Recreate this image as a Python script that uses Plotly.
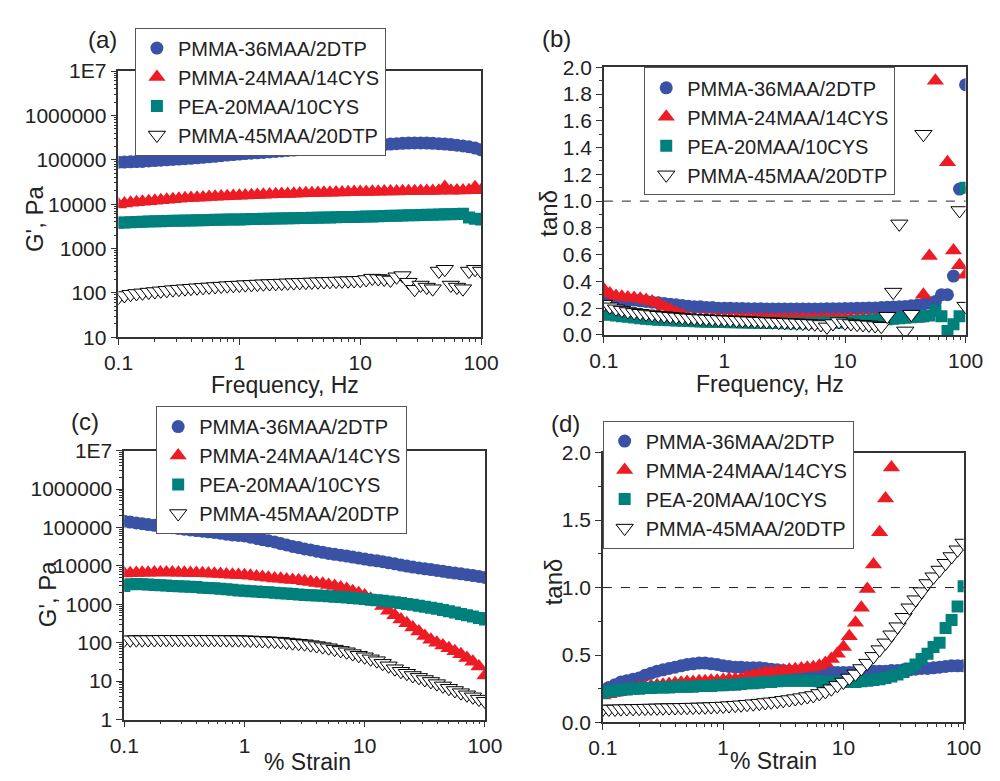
import plotly.graph_objects as go

# Logarithmic sweep grid (20 points per decade) shared by frequency and strain sweeps
grid = [0.1, 0.112, 0.126, 0.141, 0.158, 0.178, 0.2, 0.224, 0.251, 0.282,
        0.316, 0.355, 0.398, 0.447, 0.501, 0.562, 0.631, 0.708, 0.794, 0.891,
        1.0, 1.12, 1.26, 1.41, 1.58, 1.78, 2.0, 2.24, 2.51, 2.82,
        3.16, 3.55, 3.98, 4.47, 5.01, 5.62, 6.31, 7.08, 7.94, 8.91,
        10.0, 11.2, 12.6, 14.1, 15.8, 17.8, 20.0, 22.4, 25.1, 28.2,
        31.6, 35.5, 39.8, 44.7, 50.1, 56.2, 63.1, 70.8, 79.4, 89.1, 100.0]
freq_hz = grid
strain_pct = grid

names = ["PMMA-36MAA/2DTP", "PMMA-24MAA/14CYS", "PEA-20MAA/10CYS", "PMMA-45MAA/20DTP"]

# (a) G' vs frequency, Pa
a_36dtp = [88000, 89000, 90000, 91000, 92000, 94000, 96000, 98000, 100000, 102000,
           104000, 106000, 108000, 111000, 114000, 117000, 120000, 124000, 128000, 131000,
           135000, 138000, 141000, 144000, 147000, 150000, 154000, 158000, 162000, 166000,
           170000, 174000, 178000, 181000, 185000, 189000, 193000, 196000, 199000, 202000,
           205000, 209000, 213000, 217000, 221000, 226000, 231000, 235000, 238000, 240000,
           240000, 238000, 235000, 231000, 226000, 220000, 213000, 205000, 196000, 184000, 168000]
a_24cys = [9800, 10300, 10700, 11000, 11400, 11700, 12000, 12300, 12600, 12900,
           13200, 13500, 13700, 14000, 14200, 14500, 14700, 14900, 15100, 15300,
           15500, 15700, 15900, 16100, 16300, 16500, 16700, 16900, 17000, 17200,
           17400, 17500, 17700, 17800, 18000, 18100, 18300, 18400, 18500, 18700,
           18800, 18900, 19000, 19100, 19200, 19300, 19400, 19500, 19500, 19600,
           19700, 19800, 19800, 20000, 24500, 20000, 20200, 20300, 20500, 24000, 20500]
a_pea = [3800, 3850, 3900, 3950, 4000, 4050, 4100, 4120, 4150, 4200,
         4230, 4260, 4300, 4330, 4360, 4400, 4420, 4450, 4480, 4500,
         4530, 4560, 4600, 4630, 4660, 4700, 4730, 4760, 4800, 4830,
         4860, 4900, 4930, 4960, 5000, 5030, 5060, 5100, 5130, 5160,
         5200, 5250, 5300, 5350, 5400, 5450, 5500, 5550, 5600, 5650,
         5700, 5750, 5800, 5850, 5900, 5950, 6000, 6100, 5000, 4700, 4500]
a_45dtp = [80, 87, 93, 97, 100, 104, 107, 111, 114, 118,
           121, 124, 127, 130, 133, 136, 139, 142, 145, 148,
           150, 153, 155, 158, 160, 162, 164, 166, 168, 170,
           172, 174, 176, 178, 180, 182, 184, 186, 188, 190,
           192, 200, 215, 210, 205, 195, 230, 245, 174, 120,
           150, 135, 124, 310, 340, 150, 135, 124, 310, 340, 310]

# (b) tan(delta) vs frequency
b_36dtp = [0.28, 0.275, 0.27, 0.265, 0.26, 0.26, 0.255, 0.25, 0.245, 0.24,
           0.235, 0.23, 0.225, 0.22, 0.215, 0.21, 0.21, 0.205, 0.205, 0.2,
           0.2, 0.2, 0.198, 0.197, 0.196, 0.195, 0.195, 0.194, 0.194, 0.193,
           0.193, 0.193, 0.193, 0.193, 0.193, 0.194, 0.194, 0.195, 0.195, 0.196,
           0.197, 0.198, 0.199, 0.2, 0.201, 0.202, 0.204, 0.206, 0.208, 0.21,
           0.213, 0.217, 0.222, 0.23, 0.24, 0.25, 0.30, 0.30, 0.44, 1.09, 1.87]
b_24cys = [0.34, 0.31, 0.29, 0.285, 0.28, 0.275, 0.27, 0.26, 0.25, 0.235,
           0.21, 0.19, 0.17, 0.15, 0.13, 0.12, 0.12, 0.12, 0.12, 0.12,
           0.12, 0.12, 0.12, 0.12, 0.12, 0.12, 0.12, 0.12, 0.12, 0.12,
           0.12, 0.12, 0.12, 0.12, 0.12, 0.12, 0.12, 0.12, 0.12, 0.12,
           0.12, 0.12, 0.12, 0.12, 0.12, 0.12, 0.12, 0.12, 0.12, 0.12,
           0.12, 0.12, 0.12, 0.30, 0.59, 1.90, None, 1.29, 0.63, 0.52, 0.45]
b_pea = [0.155, 0.15, 0.145, 0.14, 0.135, 0.13, 0.125, 0.12, 0.117, 0.114,
         0.112, 0.11, 0.108, 0.106, 0.104, 0.102, 0.1, 0.099, 0.098, 0.097,
         0.096, 0.095, 0.094, 0.093, 0.092, 0.091, 0.09, 0.09, 0.089, 0.089,
         0.088, 0.088, 0.088, 0.088, 0.088, 0.089, 0.09, 0.091, 0.092, 0.093,
         0.095, 0.097, 0.1, 0.103, 0.106, 0.11, 0.113, 0.117, 0.12, 0.124,
         0.128, 0.132, 0.136, 0.14, 0.145, 0.18, 0.14, 0.03, 0.08, 0.14, 1.10]
b_45dtp = [0.23, 0.21, 0.195, 0.185, 0.175, 0.168, 0.162, 0.157, 0.152, 0.147,
           0.143, 0.139, 0.135, 0.131, 0.128, 0.125, 0.122, 0.12, 0.118, 0.116,
           0.114, 0.112, 0.11, 0.108, 0.106, 0.104, 0.102, 0.1, 0.098, 0.096,
           0.094, 0.092, 0.09, 0.088, 0.086, 0.083, 0.078, 0.06, 0.085, 0.1,
           0.09, 0.085, 0.08, 0.078, 0.075, 0.07, 0.065, 0.14, 0.32, 0.83,
           0.03, 0.155, None, 1.50, None, None, None, None, None, 0.93, 0.215]

# (c) G' vs strain, Pa
c_36dtp = [145000, 138000, 131000, 125000, 119000, 114000, 110000, 104000, 99000, 94000,
           90000, 86000, 83000, 80000, 77000, 74000, 71000, 67000, 64000, 62000,
           60000, 56000, 52000, 48000, 45000, 42000, 38000, 35000, 32000, 30000,
           27500, 26000, 24000, 22500, 21000, 20000, 19000, 18000, 17000, 16000,
           15000, 14200, 13500, 12800, 12000, 11300, 10500, 9900, 9300, 8800,
           8400, 8000, 7600, 7200, 6800, 6500, 6200, 5900, 5600, 5300, 5000]
c_24cys = [6300, 6400, 6500, 6600, 6650, 6700, 6700, 6700, 6700, 6650,
           6600, 6550, 6500, 6400, 6300, 6200, 6100, 6000, 5900, 5800,
           5700, 5500, 5300, 5100, 4900, 4700, 4600, 4400, 4300, 4200,
           4000, 3800, 3600, 3400, 3200, 3000, 2750, 2500, 2200, 1950,
           1700, 1400, 1150, 900, 680, 520, 400, 320, 250, 195,
           150, 120, 100, 85, 72, 60, 50, 40, 32, 24, 14]
c_pea = [3000, 3300, 3350, 3300, 3250, 3200, 3150, 3100, 3000, 2950,
         2900, 2850, 2800, 2700, 2650, 2600, 2550, 2450, 2400, 2300,
         2250, 2200, 2150, 2100, 2050, 2000, 1950, 1900, 1850, 1800,
         1750, 1720, 1690, 1660, 1620, 1580, 1540, 1500, 1460, 1420,
         1370, 1320, 1280, 1230, 1180, 1130, 1080, 1020, 970, 910,
         860, 810, 760, 710, 660, 610, 560, 520, 480, 440, 400]
c_45dtp = [118, 119, 120, 120, 121, 121, 122, 122, 122, 122,
           122, 122, 122, 122, 122, 122, 121, 121, 120, 120,
           119, 118, 116, 114, 112, 110, 108, 104, 100, 97,
           94, 89, 84, 79, 74, 68, 63, 58, 52, 47,
           43, 38, 34, 29, 25, 21, 18, 16, 14, 12.5,
           11, 9.8, 8.6, 7.5, 6.5, 5.7, 5.0, 4.4, 3.9, 3.4, 3.0]

# (d) tan(delta) vs strain
d_36dtp = [0.24, 0.26, 0.28, 0.30, 0.31, 0.32, 0.33, 0.35, 0.365, 0.38,
           0.39, 0.40, 0.41, 0.42, 0.43, 0.435, 0.44, 0.44, 0.435, 0.43,
           0.42, 0.415, 0.41, 0.41, 0.405, 0.405, 0.405, 0.40, 0.395, 0.39,
           0.385, 0.38, 0.38, 0.385, 0.39, 0.39, 0.385, 0.38, 0.375, 0.37,
           0.37, 0.37, 0.375, 0.375, 0.38, 0.38, 0.38, 0.38, 0.385, 0.385,
           0.39, 0.39, 0.395, 0.40, 0.40, 0.405, 0.41, 0.415, 0.42, 0.42, 0.42]
d_24cys = [0.20, 0.21, 0.22, 0.23, 0.24, 0.25, 0.26, 0.265, 0.27, 0.275,
           0.28, 0.285, 0.29, 0.295, 0.30, 0.30, 0.305, 0.305, 0.31, 0.31,
           0.315, 0.32, 0.32, 0.325, 0.34, 0.35, 0.36, 0.37, 0.375, 0.38,
           0.385, 0.39, 0.395, 0.40, 0.405, 0.41, 0.42, 0.44, 0.47, 0.51,
           0.56, 0.64, 0.74, 0.85, 0.99, 1.17, 1.41, 1.66, 1.89, None,
           None, None, None, None, None, None, None, None, None, None, None]
d_pea = [0.22, 0.23, 0.235, 0.24, 0.245, 0.25, 0.25, 0.255, 0.255, 0.26,
         0.26, 0.26, 0.265, 0.265, 0.265, 0.265, 0.27, 0.27, 0.27, 0.275,
         0.275, 0.28, 0.28, 0.285, 0.29, 0.29, 0.295, 0.30, 0.30, 0.305,
         0.31, 0.31, 0.31, 0.31, 0.31, 0.31, 0.305, 0.30, 0.30, 0.30,
         0.30, 0.30, 0.30, 0.305, 0.31, 0.315, 0.32, 0.33, 0.34, 0.355,
         0.375, 0.40, 0.43, 0.47, 0.51, 0.56, 0.59, 0.70, 0.76, 0.86, 1.01]
d_45dtp = [0.10, 0.10, 0.10, 0.102, 0.103, 0.104, 0.105, 0.106, 0.107, 0.108,
           0.109, 0.11, 0.111, 0.112, 0.113, 0.114, 0.115, 0.116, 0.118, 0.12,
           0.122, 0.125, 0.128, 0.131, 0.135, 0.139, 0.143, 0.148, 0.153, 0.158,
           0.164, 0.17, 0.177, 0.184, 0.192, 0.20, 0.215, 0.23, 0.25, 0.275,
           0.30, 0.33, 0.36, 0.40, 0.44, 0.49, 0.54, 0.59, 0.65, 0.71,
           0.78, 0.85, 0.91, 0.97, 1.03, 1.08, 1.13, 1.18, 1.23, 1.28, 1.33]

FONT = "Arial, 'Liberation Sans', sans-serif"
INK = "#222222"
styles = [
    dict(symbol="circle", size=13, color="#3A52A5"),
    dict(symbol="triangle-up", size=15, color="#ED1C24"),
    dict(symbol="square", size=12, color="#00807C"),
    dict(symbol="triangle-down", size=15, color="white", line=dict(color="black", width=1)),
]

panels = [
    (freq_hz, [a_36dtp, a_24cys, a_pea, a_45dtp], "x", "y", "legend"),
    (freq_hz, [b_36dtp, b_24cys, b_pea, b_45dtp], "x2", "y2", "legend2"),
    (strain_pct, [c_36dtp, c_24cys, c_pea, c_45dtp], "x3", "y3", "legend3"),
    (strain_pct, [d_36dtp, d_24cys, d_pea, d_45dtp], "x4", "y4", "legend4"),
]

fig = go.Figure()
for xs, series, xa, ya, leg in panels:
    for name, ys, st in zip(names, series, styles):
        fig.add_trace(go.Scatter(x=xs, y=ys, mode="markers", name=name,
                                 marker=st, xaxis=xa, yaxis=ya, legend=leg))

tickfont = dict(family=FONT, size=21, color=INK)
common = dict(showline=True, linecolor="#333333", linewidth=1.6, mirror=True,
              ticks="outside", ticklen=6, tickwidth=1.2, tickcolor="#333333",
              showgrid=False, zeroline=False, tickfont=tickfont)
logx = dict(type="log", range=[-1, 2], dtick=1, exponentformat="none",
            minor=dict(ticks="outside", ticklen=3, dtick="D1", tickcolor="#333333", showgrid=False),
            **common)
logy = dict(type="log", dtick=1, tickformat="d", exponentformat="none",
            labelalias={"10000000": "1E7", "10,000,000": "1E7"},
            minor=dict(ticks="outside", ticklen=3, dtick="D1", tickcolor="#333333", showgrid=False),
            **common)

fig.update_layout(
    xaxis=dict(domain=[0.107, 0.482], anchor="y", **logx),
    yaxis=dict(domain=[0.571, 0.922], anchor="x", range=[1, 7], **logy),
    xaxis2=dict(domain=[0.609, 0.983], anchor="y2", **logx),
    yaxis2=dict(domain=[0.574, 0.927], anchor="x2", range=[0, 2], dtick=0.2, tick0=0,
                tickformat=".1f",
                minor=dict(ticks="outside", ticklen=3, dtick=0.1, tickcolor="#333333", showgrid=False),
                **common),
    xaxis3=dict(domain=[0.113, 0.486], anchor="y3", **logx),
    yaxis3=dict(domain=[0.0666, 0.4213], anchor="x3", range=[0, 7], **logy),
    xaxis4=dict(domain=[0.608, 0.981], anchor="y4", **logx),
    yaxis4=dict(domain=[0.0627, 0.4187], anchor="x4", range=[0, 2], dtick=0.5, tick0=0,
                tickformat=".1f",
                minor=dict(ticks="outside", ticklen=3, dtick=0.25, tickcolor="#333333", showgrid=False),
                **common),
)

legfont = dict(family=FONT, size=20, color=INK)
legbase = dict(xref="paper", yref="paper", xanchor="left", yanchor="top",
               bgcolor="white", bordercolor="#555555", borderwidth=1,
               font=legfont, itemwidth=32, tracegroupgap=0)
fig.update_layout(
    legend=dict(x=0.124, y=1 - 16 / 781, **legbase),
    legend2=dict(x=0.6507, y=1 - 57 / 781, **legbase),
    legend3=dict(x=0.146, y=1 - 406 / 781, **legbase),
    legend4=dict(x=0.6077, y=1 - 421 / 781, **legbase),
)

# tan(delta) = 1 reference lines
for xa, ya in (("x2", "y2"), ("x4", "y4")):
    fig.add_shape(type="line", xref=f"{xa} domain", yref=ya, x0=0, x1=1, y0=1, y1=1,
                  line=dict(color="#222222", width=1, dash="dash"))

# axis titles and panel letters
labels = [
    ("Frequency, Hz", 279, 384, 0, 23), ("Frequency, Hz", 781, 383, 0, 23),
    ("% Strain", 302, 773, 0, 23), ("% Strain", 784, 772, 0, 23),
    ("G', Pa", 20, 213, -90, 24), ("tanδ", 552, 207, -90, 24),
    ("G', Pa", 33, 599, -90, 24), ("tanδ", 557, 587, -90, 24),
    ("(a)", 91, 28, 0, 24), ("(b)", 560, 27, 0, 24), ("(c)", 72, 422, 0, 24), ("(d)", 569, 424, 0, 24),
]
for text, px, py, ang, fs in labels:
    fig.add_annotation(text=text, x=px / 1000, y=1 - py / 781, xref="paper", yref="paper",
                       showarrow=False, textangle=ang, xanchor="center", yanchor="middle",
                       font=dict(family=FONT, size=fs, color=INK))

fig.update_layout(width=1000, height=781, margin=dict(l=0, r=0, t=0, b=0),
                  paper_bgcolor="white", plot_bgcolor="white", font=dict(family=FONT))

fig.write_html("out.html")
